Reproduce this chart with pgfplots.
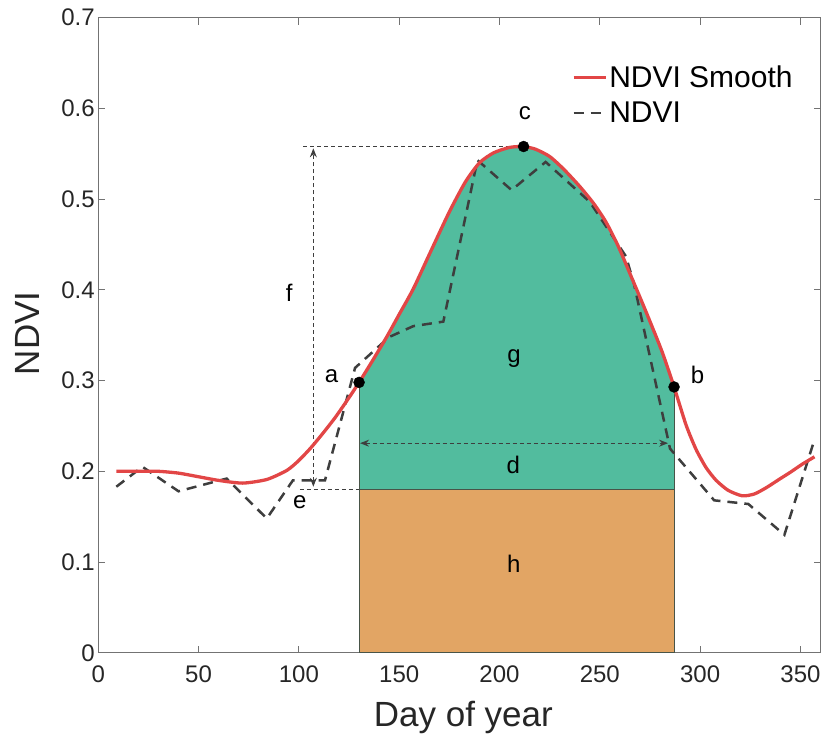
\documentclass[border=0pt]{standalone}
\usepackage{fontspec}
\setmainfont{Liberation Sans}
\usepackage{pgfplots}
\usepackage{pgfplotstable}
\pgfplotsset{compat=1.18}
\usepgfplotslibrary{fillbetween}
\usetikzlibrary{arrows.meta}

\definecolor{smoothred}{RGB}{226,70,70}
\definecolor{rawgray}{RGB}{62,62,62}
\definecolor{seasongreen}{RGB}{82,188,158}
\definecolor{baseorange}{RGB}{226,165,100}
\definecolor{edgegray}{RGB}{72,84,72}

% smoothed NDVI curve
\pgfplotstableread{
x y
9 0.200
20 0.200
30 0.200
40 0.198
50 0.194
60 0.190
72 0.187
84 0.191
94 0.201
100 0.212
106 0.226
112 0.242
118 0.259
124 0.278
130 0.298
137 0.323
144 0.349
150 0.373
157 0.401
165 0.439
175 0.486
183 0.519
190 0.540
197 0.551
205 0.557
212 0.558
218 0.555
225 0.547
232 0.533
240 0.514
247 0.495
253 0.475
259 0.449
265 0.418
273 0.376
281 0.332
287 0.293
293 0.251
298 0.224
303 0.204
308 0.190
314 0.179
321 0.173
327 0.175
333 0.182
340 0.192
345 0.199
351 0.208
357 0.216
}\smoothtab

% raw NDVI
\pgfplotstableread{
x y
9 0.183
22 0.205
40 0.178
64 0.192
84 0.148
97 0.190
113 0.190
128 0.314
145 0.348
157 0.360
172 0.365
189 0.543
206 0.510
223 0.541
245 0.497
263 0.437
267 0.407
285 0.225
307 0.168
324 0.164
342 0.130
357 0.235
}\rawtab

\begin{document}
\begin{tikzpicture}
\begin{axis}[
    at={(0,0)}, anchor=south west,
    scale only axis,
    width=722.5pt, height=635.3pt,
    xmin=0, xmax=360,
    ymin=0, ymax=0.7,
    xtick={0,50,100,150,200,250,300,350},
    ytick={0,0.1,0.2,0.3,0.4,0.5,0.6,0.7},
    yticklabel style={/pgf/number format/fixed, /pgf/number format/precision=1},
    /pgf/number format/assume math mode=true,
    tick align=inside,
    major tick length=7pt,
    axis line style={black!55, line width=0.8pt},
    tick style={black!55, line width=0.8pt},
    tick label style={font=\fontsize{24}{28}\selectfont, text=black!85},
    xticklabel style={yshift=-9pt},
    xlabel={Day of year},
    xlabel style={at={(axis description cs:0.5055,0)}, anchor=base, yshift=-74pt,
        font=\fontsize{35}{42}\selectfont, text=black!85},
    ylabel={NDVI},
    ylabel style={at={(axis description cs:-0.0807,0.503)}, anchor=base,
        font=\fontsize{35}{42}\selectfont, text=black!85},
    legend style={at={(axis description cs:0.6556,0.928)}, anchor=north west,
        draw=none, fill=none, inner sep=0pt, row sep=9pt,
        font=\fontsize{30}{36}\selectfont},
    legend cell align=left,
    legend image code/.code={\draw[#1] (0pt,0pt) -- (32pt,0pt);},
    reverse legend,
]

\addplot[name path=sm, draw=none, forget plot, smooth, tension=0.4] table {\smoothtab};
\addplot[name path=base, draw=none, forget plot] coordinates {(0,0.18) (360,0.18)};
\addplot[fill=seasongreen, draw=none, forget plot]
    fill between[of=sm and base, soft clip={domain=130:287}];
\addplot[fill=baseorange, draw=edgegray, line width=1pt, forget plot]
    coordinates {(130,0) (130,0.18) (287,0.18) (287,0)} -- cycle;
\addplot[edgegray, line width=1pt, forget plot] coordinates {(130,0.18) (130,0.298)};
\addplot[edgegray, line width=1pt, forget plot] coordinates {(287,0.18) (287,0.293)};

% annotation lines
\draw[rawgray, line width=1pt, dash pattern=on 4pt off 3pt]
    (axis cs:102.2,0.558) -- (axis cs:212,0.558);
\draw[rawgray, line width=1pt, dash pattern=on 4pt off 3pt]
    (axis cs:100.5,0.18) -- (axis cs:130,0.18);
\draw[rawgray, line width=1pt, dash pattern=on 4pt off 3pt,
    {Stealth[length=9pt,width=7pt,inset=3pt]}-{Stealth[length=9pt,width=7pt,inset=3pt]}]
    (axis cs:107.2,0.183) -- (axis cs:107.2,0.556);
\draw[rawgray, line width=1pt, dash pattern=on 4pt off 3pt,
    {Stealth[length=9pt,width=7pt,inset=3pt]}-{Stealth[length=9pt,width=7pt,inset=3pt]}]
    (axis cs:130.5,0.231) -- (axis cs:284,0.231);

\addplot[rawgray, line width=2.5pt, dash pattern=on 10pt off 7pt] table {\rawtab};
\addlegendentry{NDVI}
\addplot[smoothred, line width=3.3pt, smooth, tension=0.4] table {\smoothtab};
\addlegendentry{NDVI Smooth}

\addplot[only marks, mark=*, mark size=5.5pt, black, forget plot]
    coordinates {(130,0.298) (212,0.558) (287,0.293)};

\begin{scope}[font=\fontsize{24}{28}\selectfont]
\node at (axis cs:116.3,0.3054) {a};
\node at (axis cs:298.7,0.306) {b};
\node at (axis cs:212.7,0.5946) {c};
\node at (axis cs:206.9,0.2071) {d};
\node at (axis cs:100.5,0.1658) {e};
\node at (axis cs:95.2,0.3972) {f};
\node at (axis cs:207.2,0.324) {g};
\node at (axis cs:207.1,0.098) {h};
\end{scope}
\end{axis}
\pgfresetboundingbox
\useasboundingbox (-98.3pt,-84pt) rectangle (723pt,653pt);
\end{tikzpicture}
\end{document}
